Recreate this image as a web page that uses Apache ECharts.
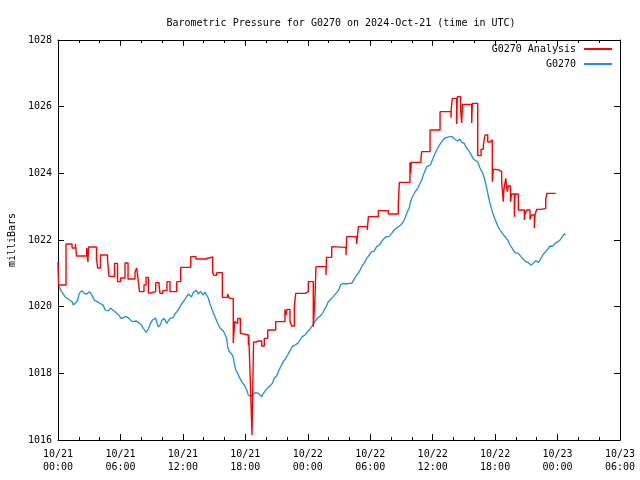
<!DOCTYPE html>
<html>
<head>
<meta charset="utf-8">
<script src="https://cdn.jsdelivr.net/npm/echarts@6/dist/echarts.min.js"></script>
<style>html,body{margin:0;padding:0;background:#fff}#c{width:640px;height:480px}</style>
</head>
<body>
<div id="c"></div>
<script>
// hours since 2024-10-21 00:00 UTC
var analysisHours = [0.00,0.05,0.77,1.35,1.68,1.78,2.76,2.88,2.93,3.70,3.81,4.08,4.76,4.90,5.43,5.72,6.01,6.44,6.73,7.40,7.56,7.69,7.83,8.26,8.46,8.68,8.91,9.39,9.71,9.80,10.06,10.47,10.76,11.41,11.79,12.75,13.26,14.13,14.86,14.99,15.25,15.79,16.29,16.46,16.84,16.98,17.01,17.27,17.52,17.71,18.29,18.33,18.50,18.64,18.79,19.03,19.27,19.46,19.57,19.82,20.15,20.92,21.81,21.91,22.00,22.29,22.46,22.71,22.84,23.73,24.05,24.53,24.67,24.79,25.75,25.80,26.30,26.45,27.67,27.74,28.70,28.86,29.72,29.82,30.78,31.74,32.70,32.80,33.82,33.89,33.95,34.88,34.95,35.75,36.71,37.76,37.79,37.89,38.31,38.37,38.68,38.79,38.87,39.75,39.81,40.33,40.65,40.87,41.03,41.29,41.51,41.73,41.83,42.06,42.38,42.63,42.79,42.84,43.02,43.17,43.27,43.48,43.58,43.85,43.91,44.23,44.81,44.85,45.04,45.35,45.52,45.77,45.83,46.00,46.41,46.86,46.96,47.82];
var analysisValues = [1021.34,1020.65,1021.88,1021.76,1021.88,1021.52,1021.76,1021.34,1021.79,1021.43,1021.16,1021.55,1021.40,1020.91,1021.30,1020.75,1020.86,1021.31,1020.83,1021.04,1021.16,1020.83,1020.45,1020.65,1020.88,1020.41,1020.45,1020.72,1020.65,1020.40,1020.48,1020.75,1020.45,1020.75,1021.18,1021.50,1021.43,1021.49,1021.02,1020.94,1021.02,1020.28,1020.38,1020.25,1018.91,1019.55,1019.50,1019.65,1019.20,1019.15,1018.85,1019.15,1017.56,1016.15,1018.94,1018.97,1018.93,1018.97,1018.82,1019.05,1019.30,1019.55,1019.92,1019.75,1019.92,1019.55,1019.42,1020.00,1020.40,1020.45,1020.75,1019.40,1020.10,1021.20,1020.95,1021.48,1021.80,1021.78,1021.55,1022.10,1021.88,1022.40,1022.30,1022.70,1022.88,1022.78,1023.10,1023.73,1024.33,1024.00,1024.33,1024.47,1024.65,1025.30,1025.85,1025.67,1025.95,1026.25,1025.48,1026.30,1025.93,1025.51,1026.07,1025.51,1026.10,1024.53,1024.72,1024.85,1025.15,1024.94,1025.00,1023.75,1024.12,1024.10,1024.05,1023.75,1023.15,1023.50,1023.85,1023.45,1023.62,1023.15,1023.38,1022.70,1023.38,1022.90,1022.60,1022.75,1022.90,1022.62,1022.75,1022.35,1022.75,1022.92,1022.95,1023.20,1023.40,1023.40];

var stationHours = [0.10,0.36,0.67,0.96,1.15,1.37,1.47,1.59,1.70,1.89,2.05,2.28,2.53,2.76,3.01,3.22,3.51,3.78,3.99,4.18,4.35,4.52,4.68,4.85,5.04,5.22,5.48,5.67,5.84,6.05,6.25,6.49,6.66,6.82,6.97,7.11,7.30,7.54,7.74,7.88,8.05,8.20,8.36,8.48,8.68,8.84,9.06,9.22,9.37,9.48,9.64,9.85,9.99,10.19,10.30,10.45,10.62,10.76,10.93,11.08,11.24,11.41,11.58,11.72,11.89,12.04,12.16,12.37,12.54,12.68,12.83,13.00,13.16,13.31,13.48,13.69,13.84,13.96,14.13,14.27,14.44,14.61,14.70,14.86,14.94,15.09,15.23,15.33,15.42,15.57,15.66,15.88,16.05,16.21,16.30,16.43,16.57,16.75,16.86,16.94,17.08,17.27,17.39,17.58,17.71,17.90,18.02,18.13,18.29,18.40,18.55,18.67,18.77,19.00,19.25,19.41,19.57,19.73,19.89,20.15,20.37,20.59,20.78,21.01,21.24,21.43,21.65,21.88,22.07,22.29,22.51,22.77,23.03,23.25,23.47,23.73,23.99,24.21,24.45,24.69,24.92,25.18,25.43,25.66,25.80,25.97,26.20,26.45,26.71,26.93,27.16,27.41,27.67,27.99,28.22,28.44,28.70,28.95,29.18,29.40,29.66,29.91,30.14,30.36,30.62,30.87,31.10,31.33,31.58,31.81,32.06,32.29,32.48,32.70,32.93,33.18,33.34,33.51,33.73,33.92,34.14,34.37,34.56,34.78,34.95,35.10,35.26,35.43,35.58,35.79,35.97,36.16,36.39,36.61,36.87,37.12,37.38,37.67,37.89,38.08,38.19,38.41,38.63,38.79,39.04,39.17,39.42,39.68,39.91,40.07,40.33,40.55,40.77,40.96,41.19,41.35,41.51,41.73,41.99,42.25,42.47,42.69,42.95,43.21,43.43,43.65,43.91,44.23,44.49,44.71,44.94,45.19,45.45,45.67,45.90,46.17,46.41,46.63,46.86,47.11,47.28,47.52,47.76,48.02,48.24,48.46,48.65,48.78];
var stationValues = [1020.60,1020.45,1020.30,1020.23,1020.20,1020.14,1020.05,1020.11,1020.12,1020.20,1020.40,1020.48,1020.40,1020.38,1020.45,1020.37,1020.19,1020.15,1020.11,1020.08,1020.04,1019.90,1019.84,1019.87,1019.96,1019.99,1019.85,1019.83,1019.75,1019.65,1019.66,1019.71,1019.74,1019.65,1019.60,1019.55,1019.50,1019.57,1019.52,1019.50,1019.44,1019.35,1019.30,1019.23,1019.33,1019.47,1019.59,1019.65,1019.66,1019.54,1019.39,1019.47,1019.60,1019.65,1019.69,1019.50,1019.54,1019.65,1019.62,1019.68,1019.78,1019.83,1019.92,1019.95,1020.09,1020.11,1020.20,1020.31,1020.38,1020.34,1020.29,1020.43,1020.46,1020.49,1020.38,1020.46,1020.47,1020.35,1020.44,1020.49,1020.26,1020.08,1020.11,1019.87,1019.90,1019.69,1019.69,1019.51,1019.48,1019.36,1019.35,1019.27,1019.23,1019.06,1018.79,1018.67,1018.62,1018.55,1018.46,1018.30,1018.10,1018.00,1017.90,1017.88,1017.72,1017.65,1017.67,1017.50,1017.35,1017.37,1017.30,1017.37,1017.40,1017.42,1017.40,1017.45,1017.30,1017.40,1017.45,1017.57,1017.62,1017.70,1017.85,1017.92,1018.10,1018.22,1018.35,1018.45,1018.55,1018.68,1018.80,1018.85,1018.90,1019.00,1019.10,1019.15,1019.25,1019.33,1019.44,1019.55,1019.65,1019.72,1019.80,1019.95,1020.02,1020.15,1020.22,1020.30,1020.40,1020.48,1020.65,1020.70,1020.68,1020.70,1020.70,1020.82,1020.95,1021.05,1021.20,1021.30,1021.45,1021.55,1021.65,1021.66,1021.80,1021.85,1021.95,1022.05,1022.10,1022.11,1022.20,1022.30,1022.32,1022.40,1022.45,1022.55,1022.65,1022.80,1022.95,1023.20,1023.35,1023.47,1023.55,1023.70,1023.80,1023.95,1024.07,1024.20,1024.23,1024.25,1024.40,1024.55,1024.70,1024.83,1024.95,1025.05,1025.08,1025.10,1025.10,1025.03,1025.08,1024.97,1025.03,1024.93,1024.90,1024.80,1024.70,1024.57,1024.43,1024.49,1024.34,1024.16,1024.03,1023.86,1023.56,1023.32,1023.10,1022.85,1022.62,1022.42,1022.30,1022.20,1022.10,1022.00,1021.85,1021.75,1021.62,1021.60,1021.50,1021.42,1021.35,1021.32,1021.25,1021.30,1021.38,1021.33,1021.45,1021.58,1021.65,1021.75,1021.82,1021.81,1021.90,1021.95,1022.00,1022.10,1022.18,1022.15];

var xTickHours = [0, 6, 12, 18, 24, 30, 36, 42, 48, 54];
var yTicks = [1016, 1018, 1020, 1022, 1024, 1026, 1028];
var titleText = 'Barometric Pressure for G0270 on 2024-Oct-21 (time in UTC)';
var seriesNames = ['G0270 Analysis', 'G0270'];

function zip(a, b) { return a.map(function (v, i) { return [v, b[i]]; }); }
function pad(n) { return (n < 10 ? '0' : '') + n; }
function timeLabel(h) {
  var day = 21 + Math.floor(h / 24);
  var hh = Math.round(h % 24);
  return '10/' + pad(day) + '\n' + pad(hh) + ':00';
}

var FONT = 'DejaVu Sans Mono';
var chart = echarts.init(document.getElementById('c'), null, { renderer: 'canvas' });

var baseX = {
  type: 'value', min: xTickHours[0], max: xTickHours[xTickHours.length - 1], interval: 6,
  axisLine: { show: true, onZero: false, lineStyle: { color: '#000', width: 1 } },
  axisTick: { show: true, inside: true, length: 6, lineStyle: { color: '#000' } },
  minorTick: { show: true, splitNumber: 3, length: 3, lineStyle: { color: '#000' } },
  splitLine: { show: false }
};
var baseY = {
  type: 'value', min: yTicks[0], max: yTicks[yTicks.length - 1], interval: 2,
  axisLine: { show: true, onZero: false, lineStyle: { color: '#000', width: 1 } },
  axisTick: { show: true, inside: true, length: 6, lineStyle: { color: '#000' } },
  splitLine: { show: false }
};

chart.setOption({
  animation: false,
  backgroundColor: '#fff',
  title: {
    text: titleText, left: 336, top: 13, textAlign: 'center',
    textStyle: { fontFamily: FONT, fontSize: 10, fontWeight: 'normal', color: '#000' }
  },
  legend: {
    orient: 'vertical', right: 28, top: 44, align: 'right', itemGap: 5, padding: 0,
    itemWidth: 28, itemHeight: 2, icon: 'rect',
    data: seriesNames,
    textStyle: { fontFamily: FONT, fontSize: 10, color: '#000', padding: [0, 3, 0, 0] }
  },
  grid: { left: 58, right: 20, top: 40, bottom: 40, outerBoundsMode: 'none' },
  xAxis: [
    Object.assign({}, baseX, {
      position: 'bottom',
      axisLabel: { show: true, formatter: timeLabel, margin: 8, lineHeight: 13,
        fontFamily: FONT, fontSize: 10, color: '#000' }
    }),
    Object.assign({}, baseX, { position: 'top', axisLabel: { show: false } })
  ],
  yAxis: [
    Object.assign({}, baseY, {
      position: 'left',
      name: 'milliBars', nameLocation: 'middle', nameGap: 41, nameRotate: 90,
      nameTextStyle: { fontFamily: FONT, fontSize: 10, color: '#000' },
      axisLabel: { show: true, margin: 6, fontFamily: FONT, fontSize: 10, color: '#000',
        formatter: function (v) { return String(v); } }
    }),
    Object.assign({}, baseY, { position: 'right', axisLabel: { show: false } })
  ],
  series: [
    {
      name: seriesNames[0], type: 'line', step: 'end', xAxisIndex: 0, yAxisIndex: 0,
      showSymbol: false, symbol: 'none', data: zip(analysisHours, analysisValues),
      lineStyle: { color: '#ff0000', width: 1.4 }, itemStyle: { color: '#ff0000' }, z: 3
    },
    {
      name: seriesNames[1], type: 'line', xAxisIndex: 0, yAxisIndex: 0,
      showSymbol: false, symbol: 'none', data: zip(stationHours, stationValues),
      lineStyle: { color: '#1e8cf0', width: 1.3 }, itemStyle: { color: '#1e8cf0' }, z: 2
    }
  ]
});
</script>
</body>
</html>
